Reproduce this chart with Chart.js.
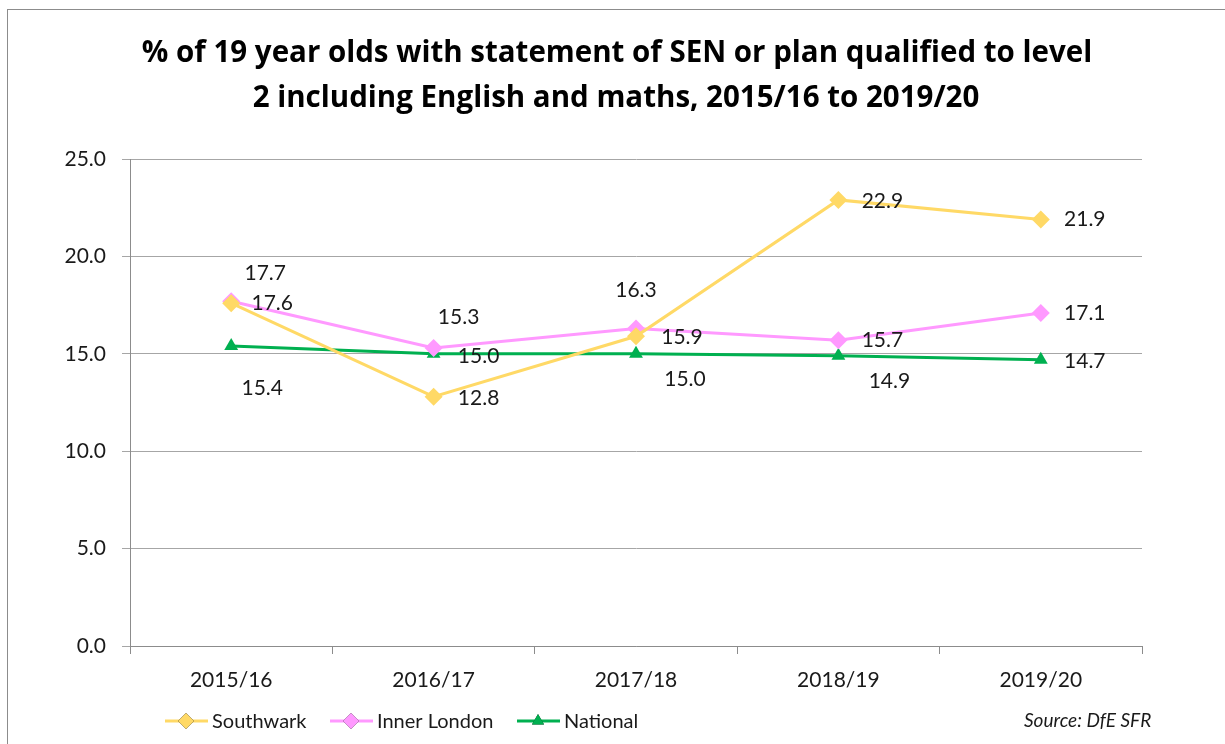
<!DOCTYPE html>
<html>
<head>
<meta charset="utf-8">
<script src="https://cdn.jsdelivr.net/npm/chart.js@4.4.1/dist/chart.umd.min.js"></script>
<style>
  html, body { margin: 0; padding: 0; background: #fff; }
  #wrap { position: relative; width: 1225px; height: 744px; overflow: hidden; }
  #frame { position: absolute; left: 7px; top: 9px; width: 1300px; height: 800px;
           border-left: 1px solid #8c8c8c; border-top: 1px solid #8c8c8c; }
  canvas { position: absolute; left: 0; top: 0; }
</style>
</head>
<body>
<div id="wrap">
  <div id="frame"></div>
  <canvas id="senChart" width="1225" height="744"></canvas>
</div>
<script>
// --- data ---
const years = ['2015/16', '2016/17', '2017/18', '2018/19', '2019/20'];
const southwark = [17.6, 12.8, 15.9, 22.9, 21.9];
const innerLondon = [17.7, 15.3, 16.3, 15.7, 17.1];
const national = [15.4, 15.0, 15.0, 14.9, 14.7];
const yTicks = [0, 5, 10, 15, 20, 25];

const titleLines = [
  '% of 19 year olds with statement of SEN or plan qualified to level',
  '2 including English and maths, 2015/16 to 2019/20'
];
const FONT = 'Lato, "Open Sans", sans-serif';
const TITLE_FONT = '"Open Sans", Lato, sans-serif';

// label nudges (px from the point) so the numbers sit like the original
const swOffsets = [[41, 0], [45, 2], [46, 1], [44, 1], [44, 0]];
const ilOffsets = [[34, -28], [25, -31], [0, -38], [44, 0], [44, 0]];
const natOffsets = [[31, 42], [45, 2], [49, 25], [51, 25], [44, 2]];

// Draw the value labels next to each point
const valueLabels = {
    id: 'valueLabels',
    afterDatasetsDraw(chart) {
        const ctx = chart.ctx;
        ctx.save();
        ctx.font = '21px ' + FONT;
        ctx.fillStyle = '#1a1a1a';
        ctx.textAlign = 'center';
        ctx.textBaseline = 'middle';
        chart.data.datasets.forEach((ds, i) => {
            const meta = chart.getDatasetMeta(i);
            meta.data.forEach((pt, j) => {
                const off = ds.labelOffsets[j];
                ctx.fillText(ds.data[j].toFixed(1), pt.x + off[0], pt.y + off[1]);
            });
        });
        ctx.restore();
    }
};

// Title, legend and source note drawn on the canvas
const decorations = {
    id: 'decorations',
    afterDraw(chart) {
        const ctx = chart.ctx;
        ctx.save();
        ctx.fillStyle = '#000';
        ctx.textAlign = 'center';
        ctx.textBaseline = 'middle';
        ctx.font = 'bold 29.5px ' + TITLE_FONT;
        ctx.fillText(titleLines[0], 617, 54);
        ctx.fillText(titleLines[1], 616, 99);

        // legend
        const legendX = [165, 330, 517];
        ctx.textAlign = 'left';
        ctx.font = '20px ' + FONT;
        chart.data.datasets.forEach((ds, i) => {
            const x = legendX[i], y = 721;
            ctx.strokeStyle = ds.borderColor;
            ctx.lineWidth = 3;
            ctx.beginPath();
            ctx.moveTo(x, y);
            ctx.lineTo(x + 43, y);
            ctx.stroke();
            Chart.helpers.drawPoint(ctx, {
                pointStyle: ds.pointStyle, radius: ds.pointRadius - 1, rotation: 0, borderWidth: 0
            }, x + 21, y);
            ctx.fillStyle = ds.borderColor;
            ctx.fill();
            ctx.fillStyle = '#1a1a1a';
            ctx.fillText(ds.label, x + 47, y + 1);
        });

        ctx.font = 'italic 19px ' + FONT;
        ctx.fillText('Source: DfE SFR', 1024, 721);
        ctx.restore();
    }
};

new Chart(document.getElementById('senChart'), {
    type: 'line',
    data: {
        labels: years,
        datasets: [
            {
                label: 'Southwark', data: southwark,
                borderColor: '#ffd966', backgroundColor: '#ffd966',
                borderWidth: 3, pointStyle: 'rectRot', pointRadius: 9,
                pointBorderWidth: 0, tension: 0, labelOffsets: swOffsets
            },
            {
                label: 'Inner London', data: innerLondon,
                borderColor: '#ff99ff', backgroundColor: '#ff99ff',
                borderWidth: 3, pointStyle: 'rectRot', pointRadius: 9,
                pointBorderWidth: 0, tension: 0, labelOffsets: ilOffsets
            },
            {
                label: 'National', data: national,
                borderColor: '#00b050', backgroundColor: '#00b050',
                borderWidth: 3, pointStyle: 'triangle', pointRadius: 8,
                pointBorderWidth: 0, tension: 0, labelOffsets: natOffsets
            }
        ]
    },
    options: {
        responsive: false,
        animation: false,
        layout: { padding: { top: 159, right: 83, bottom: 0, left: 0 } },
        plugins: {
            legend: { display: false },
            title: { display: false },
            tooltip: { enabled: false }
        },
        scales: {
            x: {
                offset: true,
                grid: { offset: true, drawOnChartArea: false, drawTicks: true, tickLength: 8, color: '#8c8c8c' },
                border: { display: true, color: '#8c8c8c' },
                ticks: { font: { family: FONT, size: 21 }, color: '#1a1a1a', padding: 14 },
                afterFit(scale) { scale.height = 98; }
            },
            y: {
                min: 0, max: 25,
                afterBuildTicks(scale) { scale.ticks = yTicks.map(v => ({ value: v })); },
                grid: { color: '#a6a6a6', tickLength: 8, drawTicks: true },
                border: { display: true, color: '#8c8c8c' },
                ticks: {
                    font: { family: FONT, size: 21 }, color: '#1a1a1a', padding: 16,
                    callback: v => v.toFixed(1)
                },
                afterFit(scale) { scale.width = 130; }
            }
        }
    },
    plugins: [valueLabels, decorations]
});
</script>
</body>
</html>
